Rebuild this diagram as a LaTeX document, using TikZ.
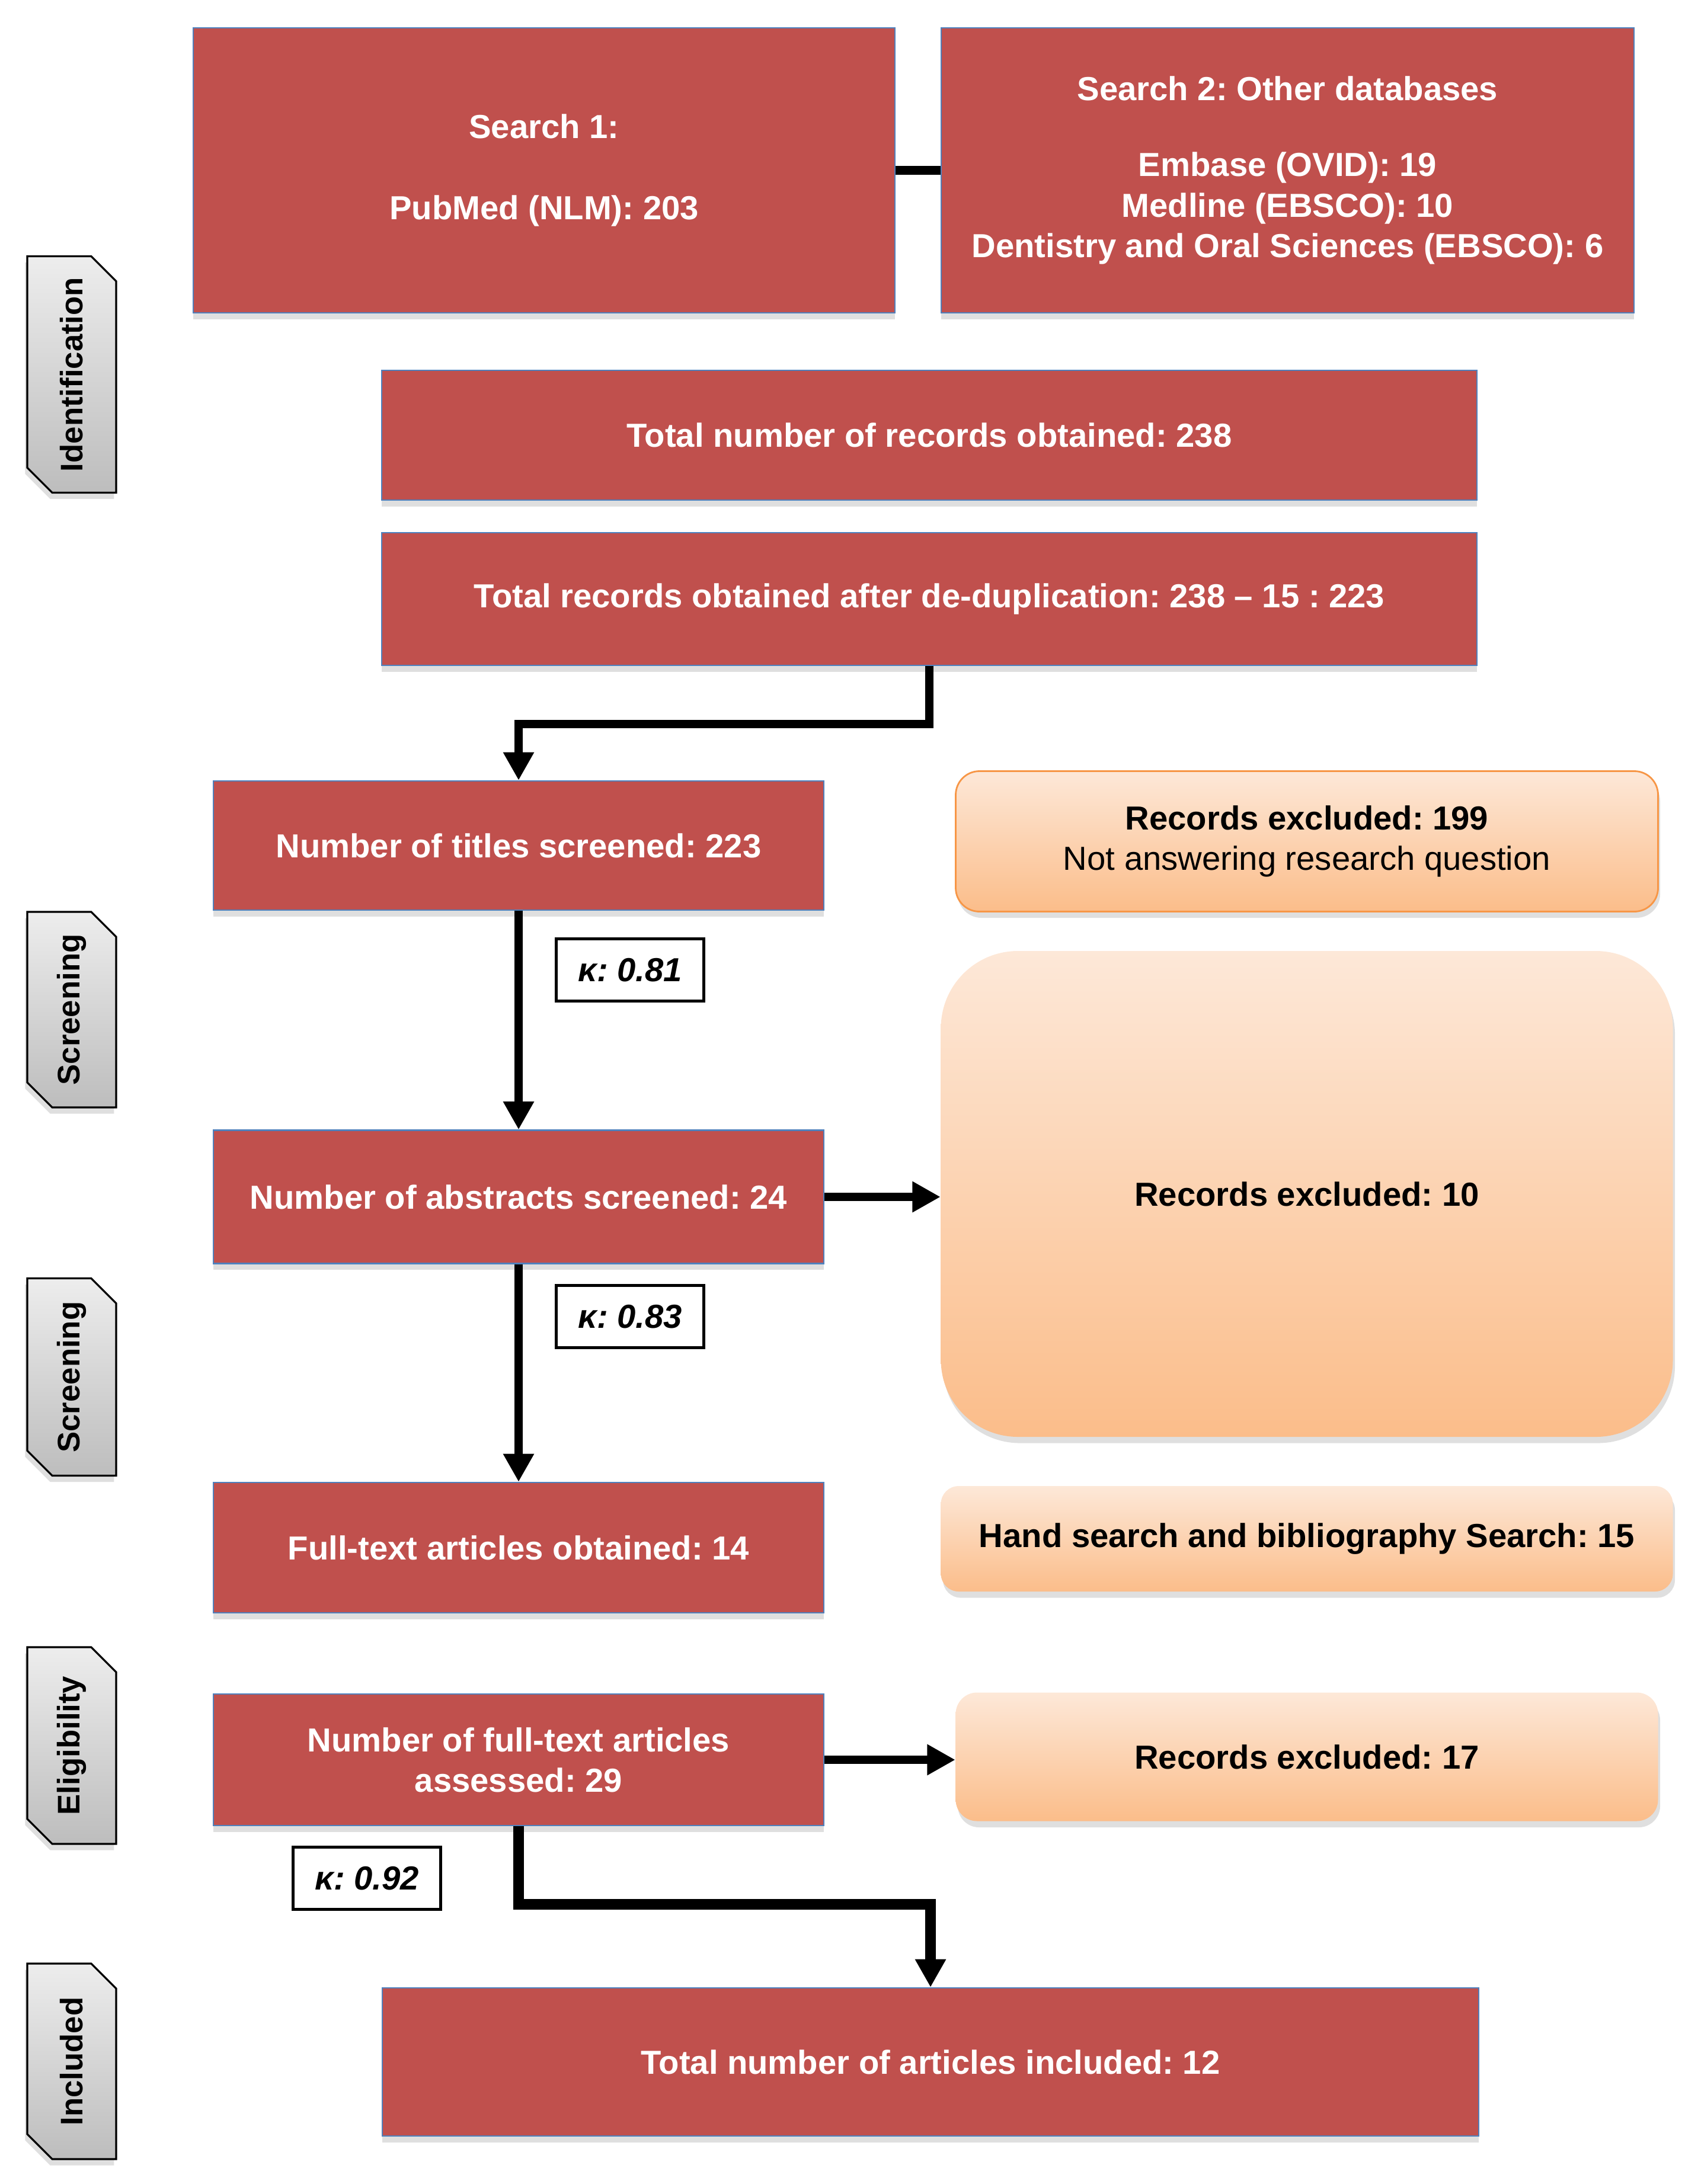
\documentclass[tikz,border=0pt]{standalone}
\usepackage{fontspec}
\setmainfont{Liberation Sans}
\usepackage{tikz}
\usetikzlibrary{arrows.meta,shadows,shapes.misc}
\definecolor{boxred}{HTML}{C0504D}
\definecolor{boxblue}{HTML}{4F81BD}
\definecolor{peachtop}{HTML}{FDE8D8}
\definecolor{peachbot}{HTML}{FBBD8A}
\definecolor{peachline}{HTML}{F79646}
\definecolor{tabtop}{HTML}{EDEDED}
\definecolor{tabbot}{HTML}{BDBDBD}
\frenchspacing

\begin{document}
\begin{tikzpicture}[
    redbox/.style={draw=boxblue, line width=0.6pt, fill=boxred, text=white, align=center,
      font=\fontsize{16}{19.4}\selectfont\bfseries,
      drop shadow={shadow xshift=0pt, shadow yshift=-3pt, opacity=0.25}},
    peachbox/.style={draw=none, top color=peachtop, bottom color=peachbot, align=center,
      font=\fontsize{16}{19.4}\selectfont,
      drop shadow={shadow xshift=1pt, shadow yshift=-3pt, opacity=0.25}},
    kbox/.style={draw, line width=1.3pt, fill=white, minimum width=2.49cm, minimum height=1.05cm,
      font=\fontsize{16}{19}\selectfont\bfseries\itshape},
    tabbox/.style={chamfered rectangle, chamfered rectangle corners={north east,south west},
      chamfered rectangle sep=6pt, draw, line width=0.9pt, top color=tabtop, bottom color=tabbot,
      minimum width=1.5cm, font=\fontsize{15}{18}\selectfont\bfseries,
      drop shadow={shadow xshift=-1pt, shadow yshift=-3pt, opacity=0.25}},
    conn/.style={line width=4pt},
    arr/.style={line width=4pt, -{Triangle[length=13.5pt, width=14pt]}}
  ]
    \useasboundingbox (0,0) rectangle (28.69,-36.86);

    \node[redbox, minimum width=11.84cm, minimum height=4.81cm] (search1) at (9.18,-2.875)
      {Search 1:\\[19.4pt]PubMed (NLM): 203};
    \node[redbox, minimum width=11.69cm, minimum height=4.81cm] (search2) at (21.725,-2.875)
      {Search 2: Other databases\\[17pt]Embase (OVID): 19\\Medline (EBSCO): 10\\Dentistry and Oral Sciences (EBSCO): 6};
    \node[redbox, minimum width=18.48cm, minimum height=2.19cm] (total) at (15.68,-7.345)
      {Total number of records obtained: 238};
    \node[redbox, minimum width=18.48cm, minimum height=2.24cm] (dedup) at (15.68,-10.11)
      {Total records obtained after de-duplication: 238 -- 15 : 223};

    \node[redbox, minimum width=10.3cm, minimum height=2.18cm] (titles) at (8.75,-14.27)
      {Number of titles screened: 223};
    \node[peachbox, draw=peachline, line width=0.8pt, rounded corners=0.4cm,
      minimum width=11.85cm, minimum height=2.37cm] (excl199) at (22.05,-14.2)
      {\textbf{Records excluded: 199}\\Not answering research question};
    \node[kbox] (kappa1) at (10.63,-16.37) {κ: 0.81};

    \node[redbox, minimum width=10.3cm, minimum height=2.25cm] (abstracts) at (8.75,-20.2)
      {Number of abstracts screened: 24};
    \node[peachbox, rounded corners=1.3cm, minimum width=12.35cm, minimum height=8.2cm] (excl10) at (22.05,-20.15)
      {\textbf{Records excluded: 10}};
    \node[kbox] (kappa2) at (10.63,-22.22) {κ: 0.83};

    \node[redbox, minimum width=10.3cm, minimum height=2.2cm] (fulltext) at (8.75,-26.12)
      {Full-text articles obtained: 14};
    \node[peachbox, rounded corners=0.3cm, minimum width=12.35cm, minimum height=1.78cm] (hand) at (22.05,-25.97)
      {\textbf{Hand search and bibliography Search: 15}};

    \node[redbox, minimum width=10.3cm, minimum height=2.22cm] (assessed) at (8.75,-29.7)
      {Number of full-text articles\\assessed: 29};
    \node[peachbox, rounded corners=0.36cm, minimum width=11.85cm, minimum height=2.17cm] (excl17) at (22.05,-29.65)
      {\textbf{Records excluded: 17}};
    \node[kbox] (kappa3) at (6.19,-31.7) {κ: 0.92};

    \node[redbox, minimum width=18.5cm, minimum height=2.5cm] (included) at (15.7,-34.8)
      {Total number of articles included: 12};

    \node[tabbox, minimum height=3.99cm] (tabid) at (1.21,-6.32) {\rotatebox{90}{Identification}};
    \node[tabbox, minimum height=3.3cm] (tabscr1) at (1.21,-17.04) {\rotatebox{90}{Screening}};
    \node[tabbox, minimum height=3.33cm] (tabscr2) at (1.21,-23.24) {\rotatebox{90}{Screening}};
    \node[tabbox, minimum height=3.32cm] (tabelig) at (1.21,-29.46) {\rotatebox{90}{Eligibility}};
    \node[tabbox, minimum height=3.3cm] (tabincl) at (1.21,-34.79) {\rotatebox{90}{Included}};

    \draw[conn] (search1.east) -- (search2.west);
    \draw[arr] (dedup.south) -- ++(0,-0.98) -| (titles.north);
    \draw[arr] (titles.south) -- (abstracts.north);
    \draw[arr] (abstracts.east) -- (abstracts.east -| excl10.west);
    \draw[arr] (abstracts.south) -- (fulltext.north);
    \draw[arr] (assessed.east) -- (assessed.east -| excl17.west);
    \draw[arr, line width=5pt] (assessed.south) -- ++(0,-1.32) -| (included.north);
  \end{tikzpicture}
\end{document}
